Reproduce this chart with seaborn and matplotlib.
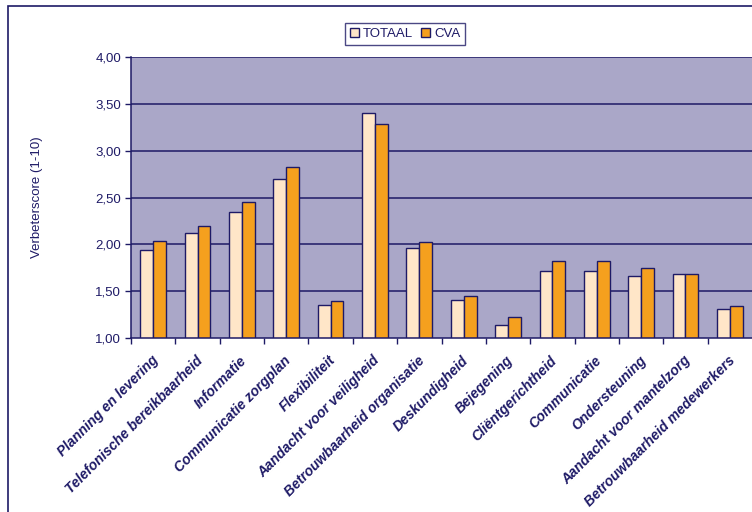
import matplotlib
matplotlib.use("Agg")
import matplotlib.pyplot as plt
import matplotlib.patches as mpatches
import numpy as np
import pandas as pd
import seaborn as sns

categories = [
    "Planning en levering",
    "Telefonische bereikbaarheid",
    "Informatie",
    "Communicatie zorgplan",
    "Flexibiliteit",
    "Aandacht voor veiligheid",
    "Betrouwbaarheid organisatie",
    "Deskundigheid",
    "Bejegening",
    "Cliëntgerichtheid",
    "Communicatie",
    "Ondersteuning",
    "Aandacht voor mantelzorg",
    "Betrouwbaarheid medewerkers",
]
totaal = [1.94, 2.12, 2.35, 2.70, 1.35, 3.40, 1.96, 1.41, 1.14, 1.72, 1.72, 1.66, 1.68, 1.31]
cva = [2.04, 2.20, 2.45, 2.83, 1.39, 3.29, 2.03, 1.45, 1.22, 1.82, 1.82, 1.75, 1.68, 1.34]
series = ["TOTAAL", "CVA"]
y_ticks = [1.0, 1.5, 2.0, 2.5, 3.0, 3.5, 4.0]

df = pd.DataFrame({
    "categorie": categories * 2,
    "score": totaal + cva,
    "reeks": [series[0]] * len(categories) + [series[1]] * len(categories),
})

navy = "#1E1A66"
lavender = "#AAA7C8"
colors = {"TOTAAL": "#FFE6C8", "CVA": "#F5A01E"}

sns.set_style("white")
plt.rcParams["font.family"] = ["Liberation Sans", "DejaVu Sans"]

fig = plt.figure(figsize=(7.52, 5.12), dpi=100)
ax = fig.add_axes([131 / 752, 1 - 338 / 512, 1 - 131 / 752, (338 - 57) / 512])
ax.set_facecolor(lavender)

# horizontal grid lines
for t in y_ticks[1:]:
    ax.axhline(t, color=navy, lw=1.1, zorder=1)

sns.barplot(
    data=df, x="categorie", y="score", hue="reeks", palette=colors, saturation=1,
    width=0.58, gap=0, edgecolor=navy, linewidth=1.0, ax=ax,
    legend=False, zorder=2,
)

ax.set_ylim(1.0, 4.0)
ax.set_xlim(-0.5, len(categories) - 0.5)
ax.set_yticks(y_ticks)
ax.set_yticklabels([f"{t:.2f}".replace(".", ",") for t in y_ticks], color=navy, fontsize=9.5)
ax.tick_params(axis="y", direction="out", length=4, color=navy, width=1, pad=3, left=True)

# category labels on minor ticks, tick marks between categories
ax.set_xticks(np.arange(len(categories)) - 0.5)
ax.set_xticklabels([])
ax.tick_params(axis="x", which="major", direction="out", length=4, color=navy, width=1, bottom=True)
ax.set_xticks(np.arange(len(categories)) - 0.05, minor=True)
ax.set_xticklabels(categories, minor=True, rotation=45, ha="right", rotation_mode="anchor",
                   fontsize=10, fontweight="bold", fontstyle="italic", color=navy)
ax.tick_params(axis="x", which="minor", length=0, pad=11)

ax.set_xlabel("")
ax.set_ylabel("Verbeterscore (1-10)", color=navy, fontsize=9.5, labelpad=38)

for side in ["top", "right"]:
    ax.spines[side].set_visible(False)
for side in ["left", "bottom"]:
    ax.spines[side].set_color(navy)
    ax.spines[side].set_linewidth(1.1)

handles = [mpatches.Patch(facecolor=colors[s], edgecolor=navy, lw=1, label=s) for s in series]
leg = fig.legend(handles=handles, loc="center", bbox_to_anchor=(405 / 752, 1 - 34 / 512),
                 ncol=2, frameon=True, fancybox=False, fontsize=9.5, handlelength=0.7,
                 handleheight=0.7, handletextpad=0.3, columnspacing=0.6, borderpad=0.35)
leg.get_frame().set_edgecolor(navy)
leg.get_frame().set_linewidth(1)
for txt in leg.get_texts():
    txt.set_color(navy)

# outer chart frame
frame = mpatches.Rectangle((8 / 752, -0.1), 1.2, 1.1 - 6 / 512, transform=fig.transFigure,
                           fill=False, edgecolor=navy, lw=1.2, clip_on=False)
fig.patches.append(frame)

fig.savefig("out.png", dpi=100)
